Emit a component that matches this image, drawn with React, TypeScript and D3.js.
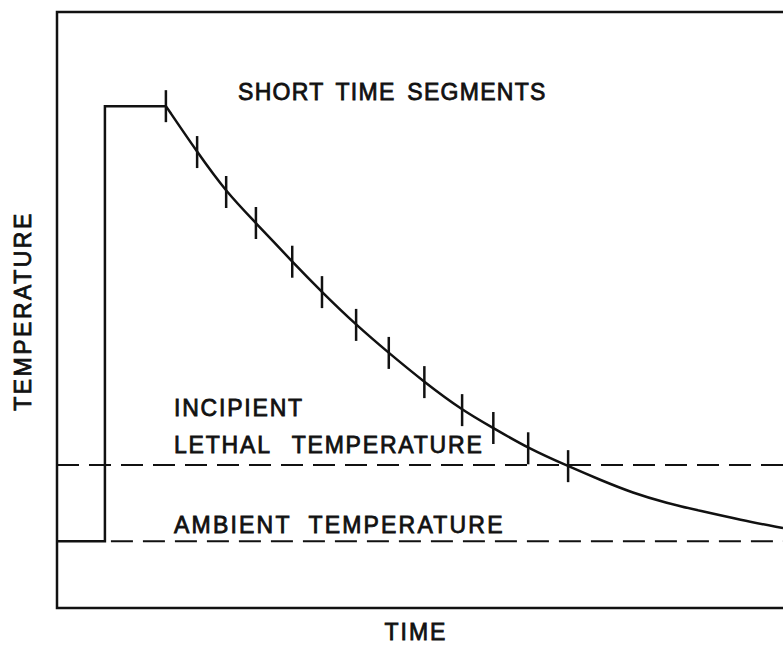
import React, { useRef, useEffect } from 'react';
import * as d3 from 'd3';

// solid trace: ambient start, sudden step up, hold, then cooling curve
const stepTime = [0, 6.6, 6.6, 15.0];
const stepTemp = [11.2, 11.2, 84.2, 84.2];

const coolTime = [15.0, 19.3, 23.3, 27.4, 32.4, 36.5, 41.2, 45.7, 50.6, 55.8, 60.1, 64.9, 70.4, 74.8, 79.3, 84.0, 88.6, 94.1, 100];
const coolTemp = [84.2, 76.5, 69.8, 64.6, 58.1, 53.0, 47.5, 42.8, 37.9, 33.2, 30.2, 26.8, 23.8, 21.5, 19.3, 17.6, 16.3, 14.8, 13.4];

// number of cooling points that carry a "short time segment" mark
const segmentCount = 13;

const lethalTemp = 24.0;
const ambientTemp = 11.2;
const pulseTime = 6.6;

const titleLabel = 'SHORT TIME SEGMENTS';
const lethalLabel = ['INCIPIENT', 'LETHAL TEMPERATURE'];
const ambientLabel = 'AMBIENT TEMPERATURE';
const xLabel = 'TIME';
const yLabel = 'TEMPERATURE';

export default function App() {
  const svgRef = useRef<SVGSVGElement>(null);

  useEffect(() => {
    document.body.style.margin = '0';
    if (!svgRef.current) return;

    const width = 783;
    const height = 645;
    const margins = { top: 12, bottom: 37, left: 57, right: 0 };

    const svg = d3.select(svgRef.current)
      .attr('width', width)
      .attr('height', height);
    svg.selectAll('*').remove();

    const xScale = d3.scaleLinear().domain([0, 100]).range([margins.left, width - margins.right]);
    const yScale = d3.scaleLinear().domain([0, 100]).range([height - margins.bottom, margins.top]);

    const ink = '#111';
    const font = '"Liberation Sans", Arial, sans-serif';

    // frame (open on the right)
    svg.append('path')
      .attr('d', `M${xScale(100)},${yScale(100)}H${xScale(0)}V${yScale(0)}H${xScale(100)}`)
      .attr('fill', 'none')
      .attr('stroke', ink)
      .attr('stroke-width', 2.5);

    // dashed reference lines
    svg.append('line')
      .attr('x1', xScale(0)).attr('x2', xScale(100))
      .attr('y1', yScale(lethalTemp)).attr('y2', yScale(lethalTemp))
      .attr('stroke', ink).attr('stroke-width', 2)
      .attr('stroke-dasharray', '22,10');
    svg.append('line')
      .attr('x1', xScale(pulseTime) + 6).attr('x2', xScale(100))
      .attr('y1', yScale(ambientTemp)).attr('y2', yScale(ambientTemp))
      .attr('stroke', ink).attr('stroke-width', 2)
      .attr('stroke-dasharray', '22,10');

    // step
    const stepPts = stepTime.map((t, i) => [t, stepTemp[i]] as [number, number]);
    svg.append('path')
      .datum(stepPts)
      .attr('fill', 'none')
      .attr('stroke', ink)
      .attr('stroke-width', 2.5)
      .attr('d', d3.line().x(d => xScale(d[0])).y(d => yScale(d[1])));

    // cooling curve
    const coolPts = coolTime.map((t, i) => [t, coolTemp[i]] as [number, number]);
    svg.append('path')
      .datum(coolPts)
      .attr('fill', 'none')
      .attr('stroke', ink)
      .attr('stroke-width', 2.5)
      .attr('d', d3.line().x(d => xScale(d[0])).y(d => yScale(d[1])).curve(d3.curveBasis));

    // segment marks
    svg.append('g')
      .selectAll('line')
      .data(coolPts.slice(0, segmentCount))
      .join('line')
      .attr('x1', d => xScale(d[0])).attr('x2', d => xScale(d[0]))
      .attr('y1', d => yScale(d[1]) - 16).attr('y2', d => yScale(d[1]) + 16)
      .attr('stroke', ink)
      .attr('stroke-width', 2.5);

    const text = svg.append('g')
      .attr('font-family', font)
      .attr('font-size', 23)
      .attr('fill', ink)
      .attr('stroke', ink)
      .attr('stroke-width', 0.8);

    text.append('text').attr('x', 238).attr('y', 100).attr('letter-spacing', 1.3).attr('word-spacing', 4).text(titleLabel);
    text.append('text').attr('x', 174).attr('y', 416).attr('letter-spacing', 1.8).text(lethalLabel[0]);
    text.append('text').attr('x', 174).attr('y', 453).attr('letter-spacing', 1.8).attr('word-spacing', 13).text(lethalLabel[1]);
    text.append('text').attr('x', 174).attr('y', 533).attr('letter-spacing', 2.2).attr('word-spacing', 9).text(ambientLabel);
    text.append('text').attr('x', 416).attr('y', 640).attr('text-anchor', 'middle').attr('letter-spacing', 2).text(xLabel);
    text.append('text')
      .attr('transform', 'translate(31,311) rotate(-90)')
      .attr('text-anchor', 'middle')
      .attr('letter-spacing', 2.5)
      .text(yLabel);
  }, []);

  return <svg ref={svgRef} style={{ display: 'block', background: '#fff' }} />;
}
